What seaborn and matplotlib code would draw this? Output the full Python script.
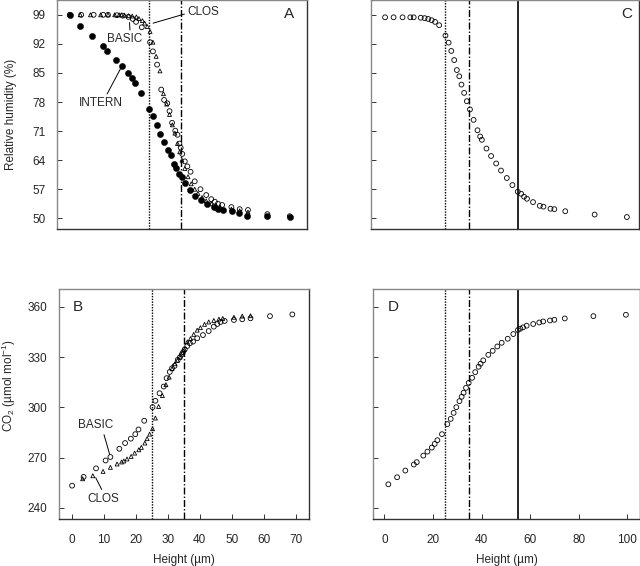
import numpy as np
import pandas as pd
import seaborn as sns
import matplotlib.pyplot as plt

sns.set_style("ticks")
plt.rcParams['font.family'] = ['Liberation Sans', 'DejaVu Sans']
plt.rcParams['mathtext.fontset'] = 'custom'
plt.rcParams['mathtext.rm'] = 'Liberation Sans'
plt.rcParams['mathtext.it'] = 'Liberation Sans:italic'

# ---- data ----
# panels A/B: BASIC (open circles), CLOS (open triangles), INTERN (filled circles)
basic_h = [0, 3.6, 7.5, 10.5, 12.0, 14.8, 16.6, 18.4, 19.8, 20.8, 22.6, 25.2, 26.1,
           27.4, 28.7, 29.6, 30.6, 31.3, 32.1, 33.1, 33.8, 34.4, 34.8, 35.3, 36.1,
           36.9, 37.9, 39.2, 41.0, 42.8, 44.4, 45.5, 46.5, 47.8, 50.7, 53.3, 55.9,
           62.0, 69.0]
basic_rh = [99.0, 99.0, 99.0, 99.0, 99.0, 98.9, 98.8, 98.5, 98.0, 97.3, 96.0, 92.4, 90.2,
            87.0, 81.0, 78.5, 77.7, 75.8, 73.0, 71.1, 70.1, 68.0, 67.0, 65.5, 63.7,
            62.5, 61.2, 58.9, 57.0, 55.6, 54.6, 54.0, 53.5, 53.2, 52.7, 52.2, 52.0,
            51.0, 50.5]
basic_co2 = [253.3, 258.5, 263.6, 268.3, 270.4, 275.3, 278.7, 281.3, 284.0, 286.8, 292.0,
             300.1, 303.9, 308.4, 312.4, 317.4, 321.1, 323.3, 324.7, 328.3, 329.9, 331.6,
             333.0, 334.6, 336.6, 338.2, 339.2, 341.2, 343.1, 345.5, 348.1, 349.7, 350.9,
             351.5, 352.1, 352.5, 353.1, 354.4, 355.4]

clos_h = [3.3, 6.5, 9.7, 12.0, 14.1, 15.5, 16.2, 17.2, 18.5, 19.6, 20.9, 21.7, 22.8,
          23.5, 24.3, 25.2, 26.1, 27.1, 28.3, 29.4, 30.4, 31.3, 32.2, 33.0, 33.8, 34.5,
          35.2, 36.1, 37.1, 38.1, 39.2, 40.2, 41.5, 42.8, 44.4, 46.0, 47.2, 50.7, 53.3,
          55.9]
clos_rh = [99.0, 99.0, 99.0, 99.0, 99.0, 99.0, 99.0, 98.9, 98.8, 98.7, 98.5, 98.1, 97.6,
           97.0, 96.2, 95.0, 92.4, 89.0, 85.5, 80.0, 77.5, 75.0, 72.5, 70.5, 68.0, 66.0,
           64.0, 62.0, 60.0, 58.3, 57.0, 56.0, 55.0, 54.2, 53.5, 53.0, 52.7, 52.2, 51.8,
           51.5]
clos_co2 = [257.4, 259.2, 261.8, 264.2, 266.2, 267.4, 268.0, 269.2, 270.7, 272.7, 274.7,
            276.1, 278.7, 281.3, 284.0, 287.2, 293.6, 300.5, 307.0, 313.5, 318.0, 323.0,
            326.0, 328.0, 330.0, 332.5, 334.5, 339.0, 341.0, 343.5, 346.0, 347.5, 349.5,
            350.9, 351.8, 352.6, 353.0, 353.7, 354.4, 354.6]

intern_h = [0, 3.3, 7.0, 10.3, 11.6, 14.5, 16.4, 18.2, 19.5, 20.6, 22.4, 24.9, 26.1,
            27.3, 28.4, 29.6, 30.7, 31.7, 32.7, 33.3, 34.4, 35.1, 36.3, 37.7, 39.3,
            41.2, 43.1, 45.1, 46.6, 48.0, 50.8, 53.1, 55.5, 62.0, 69.0]
intern_rh = [98.9, 96.4, 93.9, 91.4, 90.4, 88.2, 86.7, 85.1, 83.7, 82.5, 80.2, 76.4, 74.6,
             72.4, 70.4, 68.4, 66.5, 65.3, 63.0, 62.2, 60.7, 60.0, 58.4, 56.8, 55.4,
             54.3, 53.5, 52.7, 52.3, 52.1, 51.7, 51.3, 50.6, 50.6, 50.3]

# panels C/D: single model series
c_h = [0.3, 3.8, 7.5, 10.7, 12.1, 15.0, 16.6, 18.1, 19.5, 20.9, 22.6, 25.2, 26.5, 27.6,
       28.8, 29.9, 30.9, 31.8, 32.9, 34.0, 35.3, 36.8, 38.4, 39.5, 40.2, 42.1, 44.0,
       46.1, 48.1, 50.5, 52.8, 55.0, 56.4, 57.6, 58.8, 61.3, 64.1, 65.6, 68.5, 70.1,
       74.6, 86.7, 100.0]
c_rh = [98.4, 98.4, 98.4, 98.4, 98.4, 98.3, 98.2, 98.0, 97.7, 97.3, 96.5, 94.0, 92.3,
        90.3, 88.1, 85.7, 84.2, 82.2, 80.2, 78.2, 76.2, 73.7, 71.2, 69.7, 68.9, 66.8,
        65.0, 63.2, 61.5, 59.7, 58.0, 56.4, 55.9, 55.2, 54.7, 53.9, 53.0, 52.8, 52.3,
        52.2, 51.7, 50.9, 50.3]
d_h = [1.6, 5.2, 8.6, 12.1, 13.3, 16.0, 17.7, 19.5, 20.7, 21.8, 23.7, 25.9, 27.3, 28.5,
       29.6, 30.9, 31.8, 32.6, 33.6, 34.7, 36.1, 37.4, 38.8, 39.6, 40.7, 42.8, 44.6,
       46.5, 48.3, 50.8, 53.1, 55.0, 56.0, 57.1, 58.6, 61.3, 63.8, 65.4, 68.2, 70.0,
       74.3, 86.1, 99.5]
d_co2 = [254.1, 258.3, 262.3, 265.9, 267.3, 271.2, 273.6, 276.0, 278.2, 280.4, 284.0,
         290.0, 293.1, 296.7, 300.1, 303.7, 306.3, 308.7, 311.6, 314.6, 317.6, 321.0,
         324.2, 326.0, 328.0, 331.3, 333.7, 336.3, 338.5, 340.9, 343.7, 346.1, 346.9,
         347.7, 348.7, 349.7, 350.6, 351.2, 351.8, 352.2, 353.0, 354.4, 355.2]

rh_ticks = [50, 57, 64, 71, 78, 85, 92, 99]
co2_ticks = [240, 270, 300, 330, 360]
ab_xticks = [0, 10, 20, 30, 40, 50, 60, 70]
cd_xticks = [0, 20, 40, 60, 80, 100]

# ---- figure ----
fig = plt.figure(figsize=(6.4, 5.66), dpi=100)
axA = fig.add_axes([0.0895, 0.5949, 0.3906, 0.4046])
axC = fig.add_axes([0.5797, 0.5949, 0.4195, 0.4046])
axB = fig.add_axes([0.0922, 0.0836, 0.3910, 0.4053])
axD = fig.add_axes([0.5833, 0.0836, 0.4163, 0.4053])

open_kw = dict(facecolor='none', edgecolor='black', linewidth=0.6, legend=False)
fs = 8.5


def style(ax, xlim, ylim, yticks, xticks, ylab_on, xlab_on):
    ax.set_xlim(*xlim)
    ax.set_ylim(*ylim)
    ax.set_yticks(yticks)
    if xticks is None:
        ax.set_xticks([])
    else:
        ax.set_xticks(xticks)
    ax.tick_params(direction='in', length=3.6, width=0.7, labelsize=fs, color='#333333')
    ax.tick_params(axis='y', pad=8.5, labelleft=ylab_on)
    ax.tick_params(axis='x', pad=11, labelbottom=xlab_on)
    for side in ['top', 'right', 'bottom', 'left']:
        ax.spines[side].set_visible(True)
        ax.spines[side].set_linewidth(1.0)
    ax.spines['top'].set_color('#888888')
    ax.spines['left'].set_color('#888888')
    ax.spines['bottom'].set_color('#333333')
    ax.spines['right'].set_color('#333333')
    ax.set_xlabel('')
    ax.set_ylabel('')


def vlines(ax, solid=False):
    ax.axvline(25, color='black', lw=1.0, ls=(0, (1, 1)), zorder=1)
    ax.axvline(35, color='black', lw=1.0, ls=(0, (5, 1.5, 1, 1.5)), zorder=1)
    if solid:
        ax.axvline(55, color='black', lw=1.2, zorder=1)


# A
vlines(axA)
sns.scatterplot(x=basic_h, y=basic_rh, ax=axA, marker='o', s=12, zorder=3, **open_kw)
sns.scatterplot(x=clos_h, y=clos_rh, ax=axA, marker='^', s=8, zorder=3, **open_kw)
sns.scatterplot(x=intern_h, y=intern_rh, ax=axA, marker='o', s=20, color='black',
                edgecolor='black', linewidth=0.3, zorder=4, legend=False)
style(axA, (-3.9, 74.5), (47.35, 102.5), rh_ticks, None, True, False)
axA.set_ylabel('Relative humidity (%)', fontsize=fs)
axA.yaxis.set_label_coords(-0.16, 0.5)
axA.text(0.928, 0.939, 'A', transform=axA.transAxes, fontsize=11, ha='center', va='center')
line_kw = dict(arrowstyle='-', lw=0.7, color='black', shrinkA=0, shrinkB=2)
axA.annotate('CLOS', xy=(25.3, 96.8), xytext=(37.0, 99.7), fontsize=fs, ha='left',
             va='center', arrowprops=dict(relpos=(0, 0.4), **line_kw))
axA.annotate('BASIC', xy=(18.7, 97.8), xytext=(17.3, 93.1), fontsize=fs, ha='center',
             va='center', arrowprops=dict(relpos=(0.65, 1), **line_kw))
axA.annotate('INTERN', xy=(16.4, 86.7), xytext=(9.8, 77.7), fontsize=fs, ha='center',
             va='center', arrowprops=dict(relpos=(0.6, 1), **line_kw))

# C
vlines(axC, solid=True)
sns.scatterplot(x=c_h, y=c_rh, ax=axC, marker='o', s=12, zorder=3, **open_kw)
style(axC, (-5.5, 105.2), (47.35, 102.5), rh_ticks, None, False, False)
axC.text(0.951, 0.942, 'C', transform=axC.transAxes, fontsize=11, ha='center', va='center')

# B
vlines(axB)
sns.scatterplot(x=basic_h, y=basic_co2, ax=axB, marker='o', s=12, zorder=3, **open_kw)
sns.scatterplot(x=clos_h, y=clos_co2, ax=axB, marker='^', s=8, zorder=3, **open_kw)
style(axB, (-4.1, 74.3), (233.6, 370.4), co2_ticks, ab_xticks, True, True)
axB.set_ylabel('CO$_2$ (µmol mol$^{-1}$)', fontsize=fs)
axB.yaxis.set_label_coords(-0.165, 0.58)
axB.set_xlabel('Height (µm)', fontsize=fs, labelpad=6)
axB.text(0.075, 0.923, 'B', transform=axB.transAxes, fontsize=11, ha='center', va='center')
axB.annotate('BASIC', xy=(12.0, 270.4), xytext=(7.5, 289.2), fontsize=fs, ha='center',
             va='center', arrowprops=dict(relpos=(0.7, 0), **line_kw))
axB.annotate('CLOS', xy=(7.0, 259.5), xytext=(9.8, 245.5), fontsize=fs, ha='center',
             va='center', arrowprops=dict(relpos=(0.5, 1), **line_kw))

# D
vlines(axD, solid=True)
sns.scatterplot(x=d_h, y=d_co2, ax=axD, marker='o', s=12, zorder=3, **open_kw)
style(axD, (-4.6, 105.2), (233.6, 370.4), co2_ticks, cd_xticks, False, True)
axD.set_xlabel('Height (µm)', fontsize=fs, labelpad=6)
axD.text(0.074, 0.923, 'D', transform=axD.transAxes, fontsize=11, ha='center', va='center')

fig.savefig('out.png', dpi=100)
